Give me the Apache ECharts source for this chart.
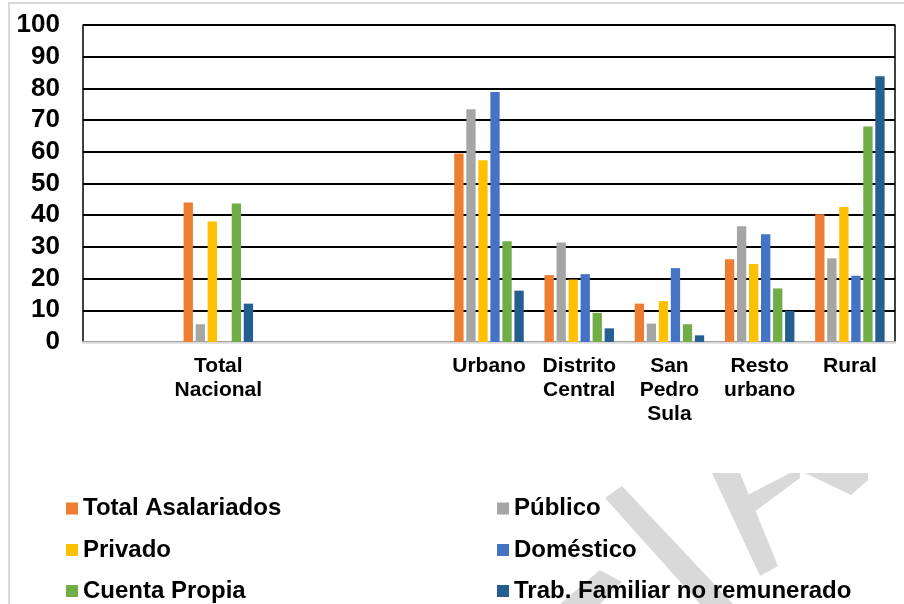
<!DOCTYPE html>
<html>
<head>
<meta charset="utf-8">
<script src="https://cdn.jsdelivr.net/npm/echarts@6/dist/echarts.min.js"></script>
<style>
html,body{margin:0;padding:0;background:#fff;}
#c{width:904px;height:604px;}
</style>
</head>
<body>
<div id="c"></div>
<script>
const categories = ["", "Total\nNacional", " ", "  ", "Urbano", "Distrito\nCentral", "San\nPedro\nSula", "Resto\nurbano", "Rural"];
const seriesNames = ["Total Asalariados", "Público", "Privado", "Doméstico", "Cuenta Propia", "Trab. Familiar no remunerado"];
const totalAsalariados = [null, 44.0, null, null, 59.5, 21.1, 12.1, 26.1, 40.3];
const publico          = [null, 5.6, null, null, 73.4, 31.4, 5.8, 36.5, 26.4];
const privado          = [null, 38.0, null, null, 57.3, 19.7, 12.9, 24.6, 42.6];
const domestico        = [null, null, null, null, 78.9, 21.4, 23.3, 34.0, 20.9];
const cuentaPropia     = [null, 43.7, null, null, 31.8, 9.2, 5.6, 16.9, 68.0];
const trabFamiliar     = [null, 12.1, null, null, 16.2, 4.3, 2.1, 9.8, 83.8];
const yTicks = [0, 10, 20, 30, 40, 50, 60, 70, 80, 90, 100];

const colors = ["#ED7D31", "#A5A5A5", "#FFC000", "#4472C4", "#70AD47", "#255E91"];
const allValues = [totalAsalariados, publico, privado, domestico, cuentaPropia, trabFamiliar];

const chart = echarts.init(document.getElementById('c'), null, {renderer: 'canvas'});
const font = "'Liberation Sans', Arial, sans-serif";

// legend layout: two columns, three rows
const legendCols = [66, 497];
const legendRowsCenter = [506.5, 548, 589];
const legends = seriesNames.map((name, i) => ({
  orient: 'horizontal',
  left: legendCols[i % 2],
  top: legendRowsCenter[Math.floor(i / 2)] - 10,
  padding: 0,
  itemWidth: 12, itemHeight: 12, itemGap: 0,
  icon: 'rect',
  data: [name],
  textStyle: {color: '#000', fontWeight: 'bold', fontSize: 24, fontFamily: font, padding: [0,0,0,0]}
}));

const wm = '#d9d9d9';
const option = {
  backgroundColor: '#fff',
  animation: false,
  color: colors,
  textStyle: {fontFamily: font},
  grid: {left: 83, right: 9, top: 25, bottom: 262, containLabel: false},
  xAxis: {
    type: 'category',
    data: categories,
    axisLine: {show: true, lineStyle: {color: '#d9d9d9', width: 2.5}},
    axisTick: {show: false},
    axisLabel: {
      interval: 0, margin: 12,
      color: '#000', fontWeight: 'bold', fontSize: 21, lineHeight: 24, fontFamily: font
    },
    splitLine: {show: false}
  },
  yAxis: [{
    type: 'value', min: yTicks[0], max: yTicks[yTicks.length - 1], interval: 10,
    axisLine: {show: true, lineStyle: {color: '#000', width: 1.5}},
    axisTick: {show: false},
    axisLabel: {color: '#000', fontWeight: 'bold', fontSize: 26, margin: 23, fontFamily: font},
    splitLine: {show: true, lineStyle: {color: '#000', width: 2}}
  }, {
    type: 'value', min: 0, max: 100, interval: 10, position: 'right',
    axisLine: {show: true, lineStyle: {color: '#000', width: 1.5}},
    axisTick: {show: false}, axisLabel: {show: false}, splitLine: {show: false}
  }],
  legend: legends,
  graphic: [
    {type: 'rect', shape: {x: 9, y: 3, width: 1200, height: 1200}, style: {fill: 'none', stroke: '#d9d9d9', lineWidth: 2}, z: -20},
    {type: 'polygon', shape: {points: [[605,498],[622,486],[733,604],[700,604]]}, style: {fill: wm}, z: -10},
    {type: 'polygon', shape: {points: [[712,473],[740,473],[778,566],[760,576]]}, style: {fill: wm}, z: -10},
    {type: 'polygon', shape: {points: [[742,498],[790,473],[800,473],[800,478],[750,515]]}, style: {fill: wm}, z: -10},
    {type: 'polygon', shape: {points: [[805,473],[868,473],[868,480],[851,495]]}, style: {fill: wm}, z: -10},
    {type: 'polygon', shape: {points: [[560,604],[600,604],[622,582],[600,570]]}, style: {fill: wm}, z: -10}
  ],
  series: seriesNames.map((name, i) => ({
    name: name,
    type: 'bar',
    data: allValues[i],
    barGap: '29%',
    barCategoryGap: '23%',
    itemStyle: {color: colors[i]}
  }))
};
chart.setOption(option);
</script>
</body>
</html>
